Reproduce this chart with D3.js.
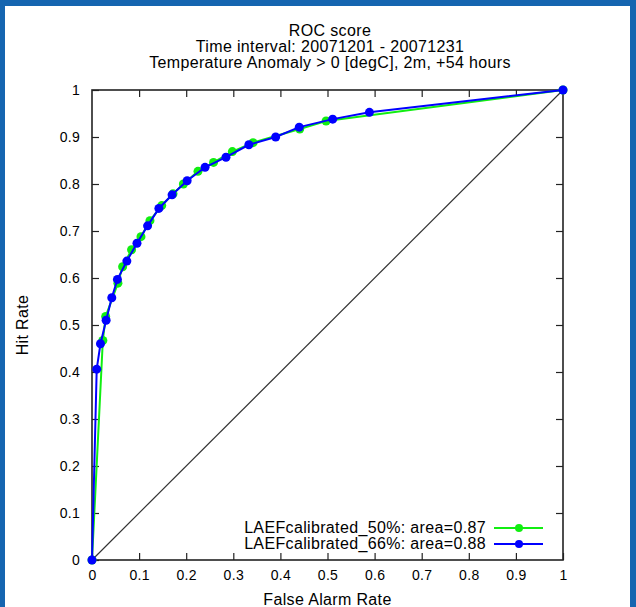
<!DOCTYPE html>
<html><head><meta charset="utf-8">
<script src="https://cdn.jsdelivr.net/npm/d3@7"></script>
<style>
html,body{margin:0;padding:0;background:#fff;}
svg{display:block;font-family:"Liberation Sans",Arial,Helvetica,sans-serif;}
</style></head>
<body>
<script>
// ---- data ----
const titleLines = ["ROC score", "Time interval: 20071201 - 20071231", "Temperature Anomaly > 0 [degC], 2m, +54 hours"];
const xLabel = "False Alarm Rate";
const yLabel = "Hit Rate";
const tickValues = [0, 0.1, 0.2, 0.3, 0.4, 0.5, 0.6, 0.7, 0.8, 0.9, 1];
const tickLabels = ["0", "0.1", "0.2", "0.3", "0.4", "0.5", "0.6", "0.7", "0.8", "0.9", "1"];

const seriesNames = ["LAEFcalibrated_50%: area=0.87", "LAEFcalibrated_66%: area=0.88"];
const seriesColors = ["#11ee11", "#0000ff"];

const far50 = [0, 0.023, 0.029, 0.055, 0.065, 0.084, 0.104, 0.123, 0.148, 0.172, 0.194, 0.225, 0.258, 0.298, 0.342, 0.441, 0.497, 1];
const hr50  = [0, 0.467, 0.518, 0.589, 0.624, 0.660, 0.688, 0.722, 0.754, 0.779, 0.800, 0.827, 0.846, 0.869, 0.888, 0.917, 0.934, 1];

const far66 = [0, 0.010, 0.018, 0.030, 0.042, 0.054, 0.074, 0.0955, 0.118, 0.142, 0.170, 0.202, 0.240, 0.2845, 0.333, 0.390, 0.440, 0.511, 0.589, 1];
const hr66  = [0, 0.406, 0.460, 0.510, 0.558, 0.597, 0.636, 0.674, 0.711, 0.748, 0.777, 0.807, 0.8355, 0.857, 0.8835, 0.900, 0.921, 0.938, 0.9525, 1];

// ---- layout ----
const W = 636, H = 607;
const svg = d3.select("body").append("svg").attr("width", W).attr("height", H);

// blue frame
svg.append("rect").attr("x",0).attr("y",0).attr("width",W).attr("height",H).attr("fill","#1565b0");
svg.append("rect").attr("x",5).attr("y",6).attr("width",W-11).attr("height",H-6).attr("fill","#fff");

const x = d3.scaleLinear().domain([0,1]).range([92, 563]);
const y = d3.scaleLinear().domain([0,1]).range([560, 90]);

const LS = "0.35px";

// title
svg.append("g").selectAll("text").data(titleLines).join("text")
  .attr("x", 330).attr("y", (d,i)=>36 + i*16)
  .attr("text-anchor","middle").attr("font-size",16).attr("letter-spacing",LS).attr("fill","#000").text(d=>d);

// diagonal
svg.append("line").attr("x1",x(0)).attr("y1",y(0)).attr("x2",x(1)).attr("y2",y(1))
  .attr("stroke","#333").attr("stroke-width",1.2);

const tl = 7;
const fmt = (d)=>tickLabels[tickValues.indexOf(d)];
// axes
const axB = d3.axisBottom(x).tickValues(tickValues).tickFormat(fmt).tickSizeInner(-tl).tickSizeOuter(0).tickPadding(10);
const axL = d3.axisLeft(y).tickValues(tickValues).tickFormat(fmt).tickSizeInner(-tl).tickSizeOuter(0).tickPadding(12);
const axT = d3.axisTop(x).tickValues(tickValues.slice(1,-1)).tickFormat("").tickSizeInner(-tl).tickSizeOuter(0);
const axR = d3.axisRight(y).tickValues(tickValues.slice(1,-1)).tickFormat("").tickSizeInner(-tl).tickSizeOuter(0);

function style(g){
  g.select(".domain").remove();
  g.selectAll(".tick line").attr("stroke","#222").attr("stroke-width",1.2);
  g.selectAll(".tick text").attr("font-size",14).attr("letter-spacing","0.3px").attr("fill","#000")
    .attr("font-family","'Liberation Sans',Arial,sans-serif");
}
svg.append("g").attr("transform",`translate(0,${y(0)})`).call(axB).call(style);
svg.append("g").attr("transform",`translate(${x(0)},0)`).call(axL).call(style);
svg.append("g").attr("transform",`translate(0,${y(1)})`).call(axT).call(style);
svg.append("g").attr("transform",`translate(${x(1)},0)`).call(axR).call(style);

// frame
svg.append("rect").attr("x",x(0)).attr("y",y(1)).attr("width",x(1)-x(0)).attr("height",y(0)-y(1))
  .attr("fill","none").attr("stroke","#222").attr("stroke-width",1.6);

// axis labels
svg.append("text").attr("x",(x(0)+x(1))/2).attr("y",605).attr("text-anchor","middle")
  .attr("font-size",16).attr("letter-spacing",LS).text(xLabel);
svg.append("text").attr("transform",`translate(28,${(y(0)+y(1))/2}) rotate(-90)`)
  .attr("text-anchor","middle").attr("font-size",16).attr("letter-spacing",LS).text(yLabel);

// series
const series = [
  {fx: far50, hy: hr50, color: seriesColors[0], name: seriesNames[0]},
  {fx: far66, hy: hr66, color: seriesColors[1], name: seriesNames[1]}
];
const line = d3.line().x(d=>x(d[0])).y(d=>y(d[1]));
series.forEach(s=>{
  const pts = s.fx.map((v,i)=>[v, s.hy[i]]);
  const g = svg.append("g");
  g.append("path").datum(pts).attr("d",line).attr("fill","none")
    .attr("stroke",s.color).attr("stroke-width",2);
  g.selectAll("circle").data(pts).join("circle")
    .attr("cx",d=>x(d[0])).attr("cy",d=>y(d[1])).attr("r",4.5).attr("fill",s.color);
});

// legend
series.forEach((s,i)=>{
  const ly = 528 + i*16;
  svg.append("text").attr("x",486).attr("y",ly+5).attr("text-anchor","end")
    .attr("font-size",16).attr("letter-spacing",LS).text(s.name);
  svg.append("line").attr("x1",494).attr("x2",543).attr("y1",ly).attr("y2",ly)
    .attr("stroke",s.color).attr("stroke-width",2);
  svg.append("circle").attr("cx",519).attr("cy",ly).attr("r",4).attr("fill",s.color);
});
</script>
</body></html>
